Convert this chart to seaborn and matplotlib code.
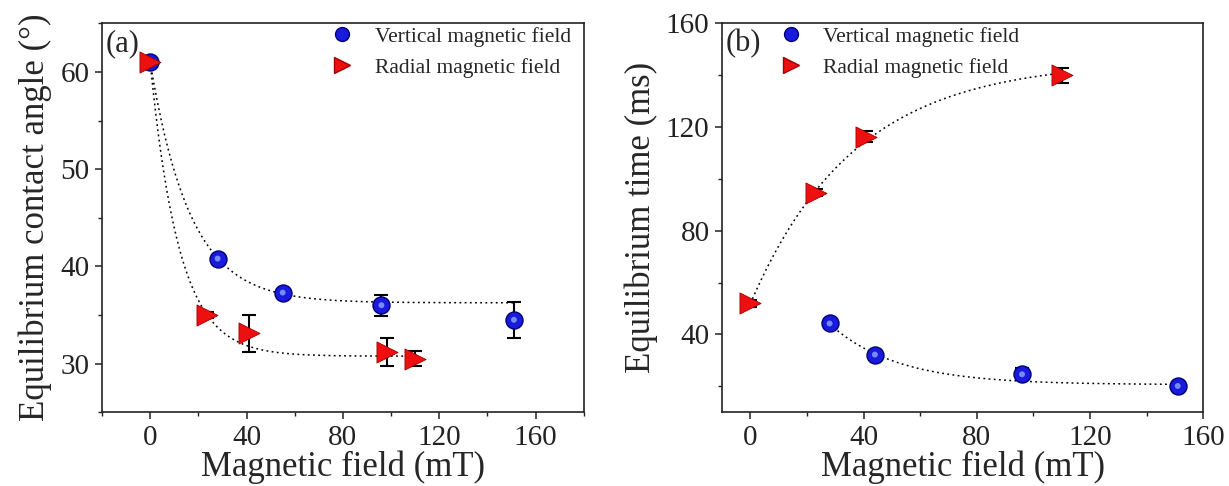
import numpy as np
import pandas as pd
import matplotlib
matplotlib.use("Agg")
import matplotlib.pyplot as plt
from matplotlib.ticker import MultipleLocator
from matplotlib.lines import Line2D
import seaborn as sns

# ---------------- data ----------------
# Panel (a): equilibrium contact angle (deg)
a_vert_x = [0, 28, 55, 96, 151]
a_vert_y = [61.0, 40.8, 37.3, 36.0, 34.5]
a_vert_err = [0.4, 0.35, 0.35, 1.1, 1.85]

a_rad_x = [0, 23.6, 41, 98.5, 110]
a_rad_y = [61.0, 35.0, 33.1, 31.2, 30.5]
a_rad_err = [0.4, 0.35, 1.9, 1.45, 0.8]

# Panel (b): equilibrium time (ms)
b_vert_x = [28, 44, 96, 151]
b_vert_y = [44.2, 32.2, 24.6, 20.1]
b_vert_err = [1.5, 1.3, 2.3, 1.3]

b_rad_x = [0, 23.3, 40.7, 110]
b_rad_y = [52.0, 94.7, 116.3, 140.0]
b_rad_err = [1.3, 1.5, 2.0, 2.9]

labels = ["Vertical magnetic field", "Radial magnetic field"]
xlabel = "Magnetic field (mT)"
ylabel_a = "Equilibrium contact angle (\u00b0)"
ylabel_b = "Equilibrium time (ms)"

# ---------------- style ----------------
sns.set_theme(style="ticks")
plt.rcParams["font.family"] = ["Liberation Serif", "DejaVu Serif"]

BLUE = "#1a1adc"
BLUE_E = "#00007a"
RED = "#ee1010"
RED_E = "#a00000"


def exp_fit(x, y, err):
    """Weighted fit y = y0 + A*exp(-x/t) (grid search over t)."""
    x = np.asarray(x, float)
    y = np.asarray(y, float)
    w = 1.0 / np.asarray(err, float) ** 2
    best = None
    for t in np.arange(2.0, 120.0, 0.05):
        M = np.column_stack([np.ones_like(x), np.exp(-x / t)])
        coef, *_ = np.linalg.lstsq(M * np.sqrt(w)[:, None], y * np.sqrt(w),
                                   rcond=None)
        chi = np.sum(w * (M @ coef - y) ** 2)
        if best is None or chi < best[0]:
            best = (chi, coef[0], coef[1], t)
    _, y0, A, t = best
    return lambda xx: y0 + A * np.exp(-np.asarray(xx) / t)


def draw_series(ax, x, y, err, kind):
    df = pd.DataFrame({"x": x, "y": y})
    f = exp_fit(x, y, err)
    xx = np.linspace(min(x), max(x), 300)
    fit_df = pd.DataFrame({"x": xx, "y": f(xx)})
    sns.lineplot(data=fit_df, x="x", y="y", ax=ax, color="black",
                 lw=1.1, linestyle=(0, (1.2, 2.2)), zorder=2)
    ax.errorbar(x, y, yerr=err, fmt="none", ecolor="black", elinewidth=1.5,
                capsize=5, capthick=1.5, zorder=3)
    if kind == "v":
        sns.scatterplot(data=df, x="x", y="y", ax=ax, marker="o", s=150,
                        color=BLUE, edgecolor=BLUE_E, linewidth=1.0, zorder=4)
        # small highlight giving the sphere look
        sns.scatterplot(data=df, x="x", y="y", ax=ax, marker="o", s=18,
                        color="#8fa8ff", edgecolor="none", zorder=4.1,
                        alpha=0.8)
    else:
        sns.scatterplot(data=df, x="x", y="y", ax=ax, marker=">", s=230,
                        color=RED, edgecolor=RED_E, linewidth=0.6, zorder=4.5)


def style_axes(ax):
    for s in ax.spines.values():
        s.set_visible(True)
        s.set_color("#222222")
        s.set_linewidth(1.2)
    ax.tick_params(axis="both", which="major", direction="out", length=5,
                   width=1.1, labelsize=21, colors="#222222", pad=4)
    ax.tick_params(axis="both", which="minor", direction="out", length=3,
                   width=1.0, colors="#222222")
    ax.set_xlabel(xlabel, fontsize=25, labelpad=0)
    ax.grid(False)


fig = plt.figure(figsize=(12.29, 4.86), dpi=100)
ax_a = fig.add_axes([0.083, 0.152, 0.392, 0.800])
ax_b = fig.add_axes([0.5875, 0.152, 0.3915, 0.800])

# ---- panel (a)
draw_series(ax_a, a_vert_x, a_vert_y, a_vert_err, "v")
draw_series(ax_a, a_rad_x, a_rad_y, a_rad_err, "r")
ax_a.set_xlim(-20, 180)
ax_a.set_ylim(25, 65)
ax_a.xaxis.set_major_locator(MultipleLocator(40))
ax_a.xaxis.set_minor_locator(MultipleLocator(20))
ax_a.set_yticks([30, 40, 50, 60])
ax_a.yaxis.set_minor_locator(MultipleLocator(5))
style_axes(ax_a)
ax_a.set_ylabel(ylabel_a, fontsize=25, labelpad=6)
ax_a.text(0.008, 0.985, "(a)", transform=ax_a.transAxes, fontsize=22,
          va="top", ha="left")

# ---- panel (b)
draw_series(ax_b, b_vert_x, b_vert_y, b_vert_err, "v")
draw_series(ax_b, b_rad_x, b_rad_y, b_rad_err, "r")
ax_b.set_xlim(-10, 160)
ax_b.set_ylim(10, 160)
ax_b.xaxis.set_major_locator(MultipleLocator(40))
ax_b.xaxis.set_minor_locator(MultipleLocator(20))
ax_b.set_yticks([40, 80, 120, 160])
ax_b.yaxis.set_minor_locator(MultipleLocator(20))
style_axes(ax_b)
ax_b.set_ylabel(ylabel_b, fontsize=25, labelpad=6)
ax_b.text(0.008, 0.985, "(b)", transform=ax_b.transAxes, fontsize=22,
          va="top", ha="left")

handles = [
    Line2D([], [], marker="o", ls="none", ms=10, color=BLUE, mec=BLUE_E),
    Line2D([], [], marker=">", ls="none", ms=12, color=RED, mec=RED_E),
]
for ax, xa in ((ax_a, 0.445), (ax_b, 0.09)):
    ax.legend(handles, labels, loc="upper left", bbox_to_anchor=(xa, 1.03),
              frameon=False, fontsize=15.5, handlelength=1.0,
              handletextpad=1.0, labelspacing=0.5, borderpad=0.2)

fig.savefig("out.png", dpi=100)
